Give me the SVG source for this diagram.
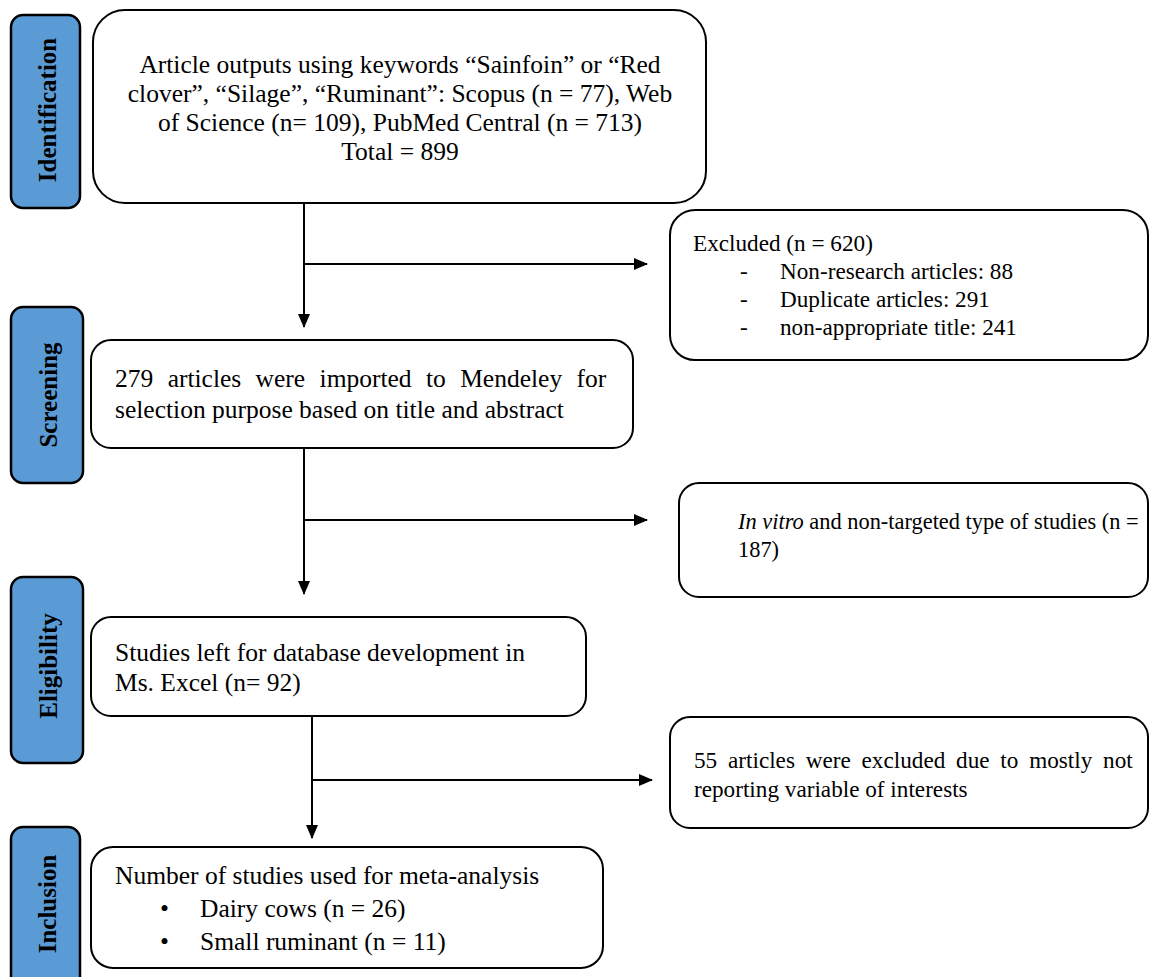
<svg xmlns="http://www.w3.org/2000/svg" width="1150" height="977" viewBox="0 0 1150 977">
<defs>
<marker id="ah" markerWidth="14" markerHeight="12" refX="13" refY="6" orient="auto" markerUnits="userSpaceOnUse">
<path d="M0,0 L14,6 L0,12 Z" fill="#000"/>
</marker>
<style>
.lab{fill:#5b9bd5;stroke:#000;stroke-width:2.5}
.box{fill:#fff;stroke:#000;stroke-width:2}
.lt{font-family:"Liberation Serif","Times New Roman",serif;font-weight:bold;font-size:25px;fill:#000;text-anchor:middle;dominant-baseline:central}
.t{font-family:"Liberation Serif","Times New Roman",serif;font-size:25.5px;fill:#000}
.r{font-size:23.2px}
.c{stroke:#000;stroke-width:2;fill:none}
</style>
</defs>
<rect width="1150" height="977" fill="#fff"/>
<g id="label-identification"><rect class="lab" x="11" y="15" width="69" height="193" rx="12"/><text class="lt" transform="translate(47,110) rotate(-90)">Identification</text></g>
<g id="label-screening"><rect class="lab" x="11" y="307" width="72" height="176" rx="12"/><text class="lt" transform="translate(48,395) rotate(-90)">Screening</text></g>
<g id="label-eligibility"><rect class="lab" x="11" y="577" width="72" height="186" rx="12"/><text class="lt" transform="translate(48,666) rotate(-90)">Eligibility</text></g>
<g id="label-inclusion"><rect class="lab" x="11" y="827" width="69" height="170" rx="12"/><text class="lt" transform="translate(47,904) rotate(-90)">Inclusion</text></g>

<g id="connectors">
<line class="c" x1="304" y1="203" x2="304" y2="327" marker-end="url(#ah)"/>
<line class="c" x1="304" y1="264" x2="647" y2="264" marker-end="url(#ah)"/>
<line class="c" x1="304" y1="448" x2="304" y2="594" marker-end="url(#ah)"/>
<line class="c" x1="304" y1="520" x2="647" y2="520" marker-end="url(#ah)"/>
<line class="c" x1="312" y1="716" x2="312" y2="838" marker-end="url(#ah)"/>
<line class="c" x1="312" y1="780" x2="652" y2="780" marker-end="url(#ah)"/>
</g>

<g id="box-identification"><rect class="box" x="93" y="10" width="613" height="193" rx="32"/>
<text class="t" text-anchor="middle"><tspan x="400" y="73">Article outputs using keywords “Sainfoin” or “Red</tspan><tspan x="400" y="102">clover”, “Silage”, “Ruminant”: Scopus (n = 77), Web</tspan><tspan x="400" y="131">of Science (n= 109), PubMed Central (n = 713)</tspan><tspan x="400" y="160">Total = 899</tspan></text></g>

<g id="box-excluded"><rect class="box" x="670" y="210" width="478" height="150" rx="25"/>
<text class="t r"><tspan x="693" y="251">Excluded (n = 620)</tspan><tspan x="740" y="279">-</tspan><tspan x="780" y="279">Non-research articles: 88</tspan><tspan x="740" y="307">-</tspan><tspan x="780" y="307">Duplicate articles: 291</tspan><tspan x="740" y="335">-</tspan><tspan x="780" y="335">non-appropriate title: 241</tspan></text></g>

<g id="box-screening"><rect class="box" x="91" y="340" width="542" height="108" rx="20"/>
<text class="t"><tspan x="115" y="387" word-spacing="8">279 articles were imported to Mendeley for</tspan><tspan x="115" y="418">selection purpose based on title and abstract</tspan></text></g>

<g id="box-invitro"><rect class="box" x="679" y="483" width="469" height="114" rx="20"/>
<text class="t" style="font-size:22.4px"><tspan x="738" y="529"><tspan font-style="italic">In vitro</tspan> and non-targeted type of studies (n =</tspan><tspan x="738" y="557">187)</tspan></text></g>

<g id="box-eligibility"><rect class="box" x="91" y="617" width="495" height="99" rx="20"/>
<text class="t"><tspan x="115" y="661">Studies left for database development in</tspan><tspan x="115" y="691">Ms. Excel (n= 92)</tspan></text></g>

<g id="box-excluded55"><rect class="box" x="670" y="717" width="478" height="111" rx="20"/>
<text class="t r"><tspan x="694" y="768" word-spacing="5">55 articles were excluded due to mostly not</tspan><tspan x="694" y="797">reporting variable of interests</tspan></text></g>

<g id="box-inclusion"><rect class="box" x="91" y="847" width="512" height="121" rx="22"/>
<text class="t"><tspan x="115" y="884">Number of studies used for meta-analysis</tspan><tspan x="160" y="917">•</tspan><tspan x="200" y="917">Dairy cows (n = 26)</tspan><tspan x="160" y="950">•</tspan><tspan x="200" y="950">Small ruminant (n = 11)</tspan></text></g>
</svg>
